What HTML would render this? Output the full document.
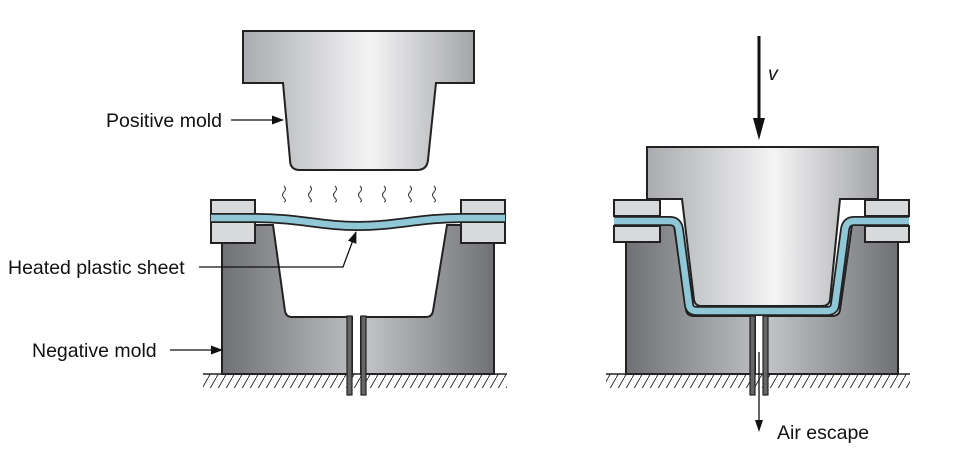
<!DOCTYPE html>
<html><head><meta charset="utf-8"><style>
html,body{margin:0;padding:0;background:#fff;width:953px;height:450px;overflow:hidden}
text{font-family:"Liberation Sans",sans-serif;font-size:19.5px;fill:#111}
</style></head><body>
<svg width="953" height="450" viewBox="0 0 953 450" xmlns="http://www.w3.org/2000/svg">
<defs>
<linearGradient id="lg" x1="0" x2="1" y1="0" y2="0">
<stop offset="0" stop-color="#a9abae"/><stop offset="0.55" stop-color="#f4f4f5"/><stop offset="1" stop-color="#a3a5a8"/></linearGradient>
<linearGradient id="dl" x1="0" x2="1"><stop offset="0" stop-color="#6f7174"/><stop offset="1" stop-color="#b9bbbe"/></linearGradient>
<linearGradient id="dr" x1="0" x2="1"><stop offset="0" stop-color="#c4c6c9"/><stop offset="1" stop-color="#6f7174"/></linearGradient>
<pattern id="h" width="8" height="14" patternUnits="userSpaceOnUse"><line x1="0" y1="14" x2="8" y2="0" stroke="#333" stroke-width="1"/></pattern>
<marker id="a" markerWidth="12" markerHeight="9" refX="11" refY="4.5" orient="auto" markerUnits="userSpaceOnUse"><path d="M0,0 L12,4.5 L0,9Z" fill="#111"/></marker>
</defs>

<!-- LEFT -->
<path d="M243,31 H474 V83 H436 L428,160 Q427,170 417,170 H300 Q290,170 290,160 L283,83 H243Z" fill="url(#lg)" stroke="#222" stroke-width="2"/>
<g stroke="#333" stroke-width="1" fill="none">
<path d="M284,186 q3,3 0,6 q-3,3 0,6 q3,3 0,4"/><path d="M310,186 q3,3 0,6 q-3,3 0,6 q3,3 0,4"/><path d="M335,186 q3,3 0,6 q-3,3 0,6 q3,3 0,4"/><path d="M360,186 q3,3 0,6 q-3,3 0,6 q3,3 0,4"/><path d="M384,186 q3,3 0,6 q-3,3 0,6 q3,3 0,4"/><path d="M410,186 q3,3 0,6 q-3,3 0,6 q3,3 0,4"/><path d="M434,186 q3,3 0,6 q-3,3 0,6 q3,3 0,4"/>
</g>
<rect x="203" y="374" width="304" height="14" fill="url(#h)"/>
<line x1="203" y1="374" x2="507" y2="374" stroke="#222" stroke-width="1.5"/>
<path d="M222,225 H273 L285,311 Q286,317 292,317 H352 V374 H222Z" fill="url(#dl)" stroke="#222" stroke-width="2"/>
<path d="M494,225 H447 L433,311 Q432,317 426,317 H361 V374 H494Z" fill="url(#dr)" stroke="#222" stroke-width="2"/>
<rect x="347" y="316" width="5" height="79" fill="#666" stroke="#222" stroke-width="1.2"/>
<rect x="361" y="316" width="5" height="79" fill="#666" stroke="#222" stroke-width="1.2"/>
<rect x="211" y="200" width="44" height="43" fill="#d8d9db" stroke="#222" stroke-width="2"/>
<rect x="461" y="200" width="44" height="43" fill="#d8d9db" stroke="#222" stroke-width="2"/>
<path d="M211,218 H255 C300,218 320,226 358,226 C396,226 420,218 461,218 H505" fill="none" stroke="#222" stroke-width="10"/>
<path d="M211,218 H255 C300,218 320,226 358,226 C396,226 420,218 461,218 H505" fill="none" stroke="#8fc7d6" stroke-width="6.5"/>
<text x="106" y="127">Positive mold</text>
<line x1="231" y1="120" x2="283" y2="120" stroke="#111" stroke-width="1.3" marker-end="url(#a)"/>
<text x="8" y="274">Heated plastic sheet</text>
<polyline points="199,267 343,267 356,232" fill="none" stroke="#111" stroke-width="1.3" marker-end="url(#a)"/>
<text x="32" y="357">Negative mold</text>
<line x1="170" y1="350" x2="222" y2="350" stroke="#111" stroke-width="1.3" marker-end="url(#a)"/>

<!-- RIGHT -->
<rect x="606" y="374" width="304" height="14" fill="url(#h)"/>
<line x1="606" y1="374" x2="910" y2="374" stroke="#222" stroke-width="1.5"/>
<path d="M626,240 H660 V225 H674 L686,310 Q687,316 694,316 H755 V374 H626Z" fill="url(#dl)" stroke="#222" stroke-width="2"/>
<path d="M898,240 H865 V225 H852 L840,310 Q839,316 832,316 H764 V374 H898Z" fill="url(#dr)" stroke="#222" stroke-width="2"/>
<rect x="750" y="316" width="5" height="79" fill="#666" stroke="#222" stroke-width="1.2"/>
<rect x="763" y="316" width="5" height="79" fill="#666" stroke="#222" stroke-width="1.2"/>
<path d="M660,199 H865 V222 H660Z" fill="#fff"/>
<path d="M647,147 H878 V199 H840 L830,300 Q829,306 822,306 H702 Q695,306 694,300 L682,199 H647Z" fill="url(#lg)" stroke="#222" stroke-width="2"/>
<path d="M614,221 H670 Q678,221 679,230 L689,305 Q690,311 697,311 H827 Q834,311 835,305 L845,230 Q846,221 854,221 H909" fill="none" stroke="#222" stroke-width="10"/>
<path d="M614,221 H670 Q678,221 679,230 L689,305 Q690,311 697,311 H827 Q834,311 835,305 L845,230 Q846,221 854,221 H909" fill="none" stroke="#8fc7d6" stroke-width="6.5"/>
<rect x="614" y="200" width="46" height="16" fill="#d8d9db" stroke="#222" stroke-width="2"/>
<rect x="614" y="226" width="46" height="16" fill="#d8d9db" stroke="#222" stroke-width="2"/>
<rect x="865" y="200" width="44" height="16" fill="#d8d9db" stroke="#222" stroke-width="2"/>
<rect x="865" y="226" width="44" height="16" fill="#d8d9db" stroke="#222" stroke-width="2"/>
<line x1="759" y1="36" x2="759" y2="122" stroke="#111" stroke-width="3"/>
<path d="M753,118 L765,118 L759,140Z" fill="#111"/>
<text x="768" y="80" font-style="italic">v</text>
<line x1="759" y1="352" x2="759" y2="428" stroke="#111" stroke-width="1.3"/>
<path d="M755,420 L763,420 L759,432Z" fill="#111"/>
<text x="777" y="439">Air escape</text>
</svg>
</body></html>
